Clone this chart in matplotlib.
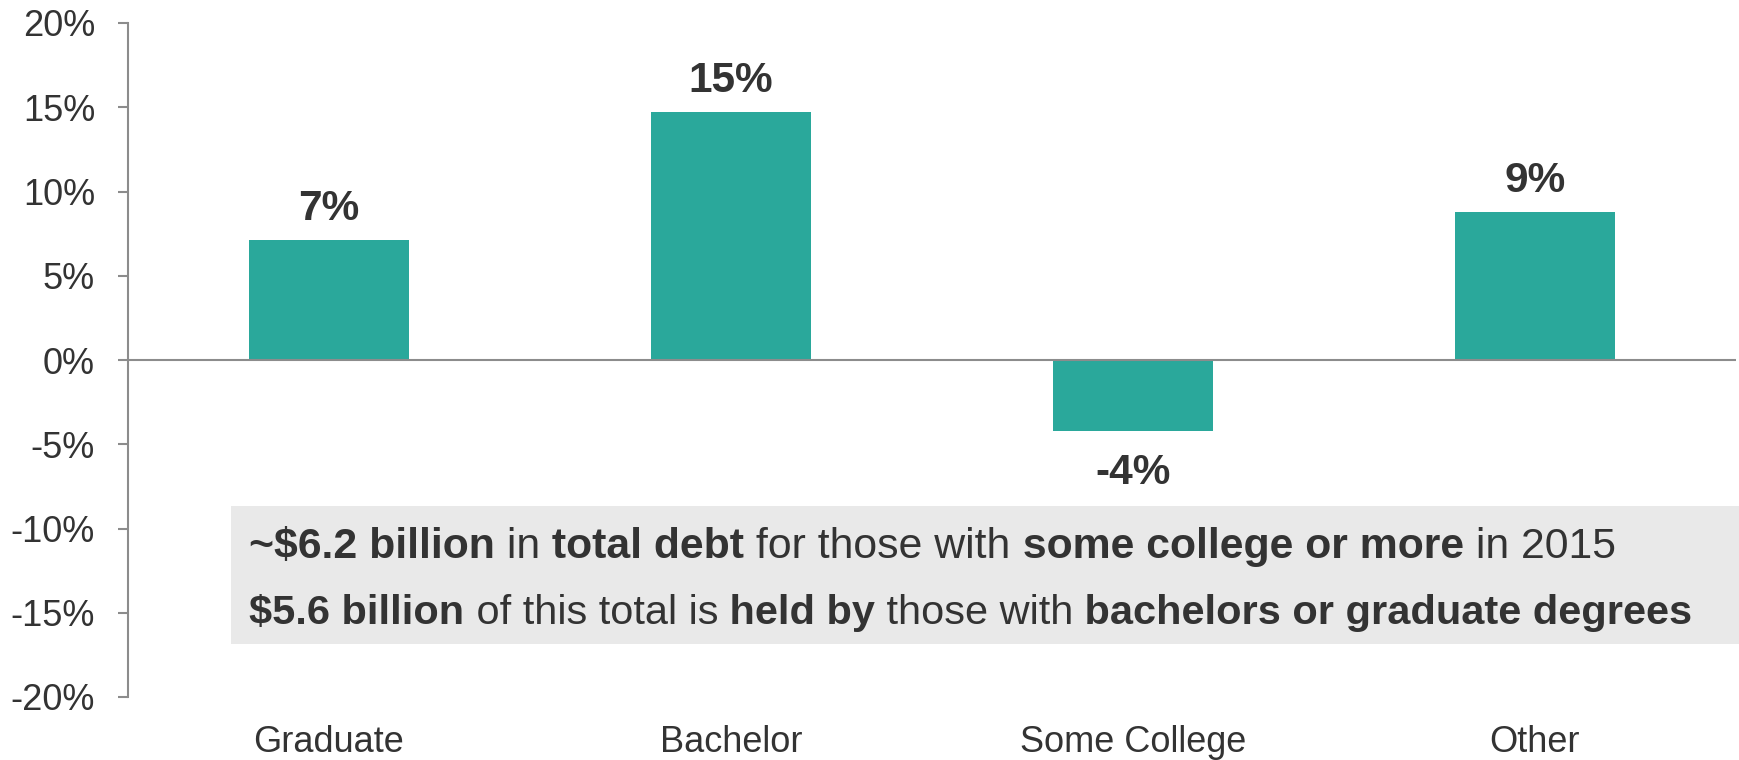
import matplotlib
matplotlib.use("Agg")
import matplotlib.pyplot as plt
from matplotlib.patches import Rectangle

plt.rcParams['font.family'] = ['Liberation Sans', 'DejaVu Sans']

categories = ["Graduate", "Bachelor", "Some College", "Other"]
change_pct = [7.1, 14.7, -4.2, 8.8]
y_ticks = [-20, -15, -10, -5, 0, 5, 10, 15, 20]

note_line1 = [("~$6.2 billion", True), ("in", False), ("total debt", True),
              ("for those with", False), ("some college or more", True), ("in 2015", False)]
note_line2 = [("$5.6 billion", True), ("of this total is", False), ("held by", True),
              ("those with", False), ("bachelors or graduate degrees", True)]

TEAL = "#2AA89B"
TEXT = "#333333"
AXIS = "#8C8C8C"
BOX = "#E9E9E9"


def rich_line(ax, x, y, parts, size):
    # draw a line of text where each piece can be bold or normal
    t = None
    for s, bold in parts:
        w = "bold" if bold else "normal"
        if t is None:
            t = ax.text(x, y, s, transform=ax.transAxes, fontsize=size, fontweight=w,
                        color=TEXT, va="bottom", ha="left", parse_math=False, zorder=5)
        else:
            t = ax.annotate(" " + s, xy=(1, 0), xycoords=t, fontsize=size, fontweight=w,
                            color=TEXT, va="bottom", ha="left", parse_math=False, zorder=5)
    return t


fig = plt.figure(figsize=(17.4, 7.6), dpi=100)
ax = fig.add_axes([128 / 1740, 1 - 697 / 760, 1608 / 1740, 674 / 760])

x = list(range(len(categories)))
ax.bar(x, change_pct, width=0.4, color=TEAL, zorder=2)
ax.axhline(0, color=AXIS, linewidth=1.5, zorder=3)

for xi, v in zip(x, change_pct):
    if v >= 0:
        ax.annotate(f"{v:.0f}%", xy=(xi, v), xytext=(0, 14.5), textcoords="offset points",
                    ha="center", va="baseline", fontsize=30.5, fontweight="bold", color=TEXT)
    else:
        ax.annotate(f"{v:.0f}%", xy=(xi, v), xytext=(0, -16), textcoords="offset points",
                    ha="center", va="top", fontsize=30.5, fontweight="bold", color=TEXT)

ax.set_xlim(-0.5, len(categories) - 0.5)
ax.set_ylim(-20, 20)
ax.set_yticks(y_ticks)
ax.set_yticklabels([f"{t}%" for t in y_ticks])
ax.set_xticks(x)
ax.set_xticklabels(categories)

for side in ["top", "right", "bottom"]:
    ax.spines[side].set_visible(False)
ax.spines["left"].set_color(AXIS)
ax.spines["left"].set_linewidth(1.5)
ax.tick_params(axis="y", direction="out", length=7.2, width=1.5, color=AXIS,
               pad=16.5, labelsize=26, labelcolor=TEXT)
ax.tick_params(axis="x", length=0, pad=20, labelsize=26, labelcolor=TEXT)

# grey note box across the lower half
ax.add_patch(Rectangle((0.064, 0.0786), 0.94, 0.2048, transform=ax.transAxes,
                       facecolor=BOX, edgecolor="none", clip_on=False, zorder=4))
rich_line(ax, 0.0755, 0.2062 - 0.014, note_line1, 30.75)
rich_line(ax, 0.0755, 0.1098 - 0.014, note_line2, 29.85)

fig.savefig("out.png", dpi=100)
